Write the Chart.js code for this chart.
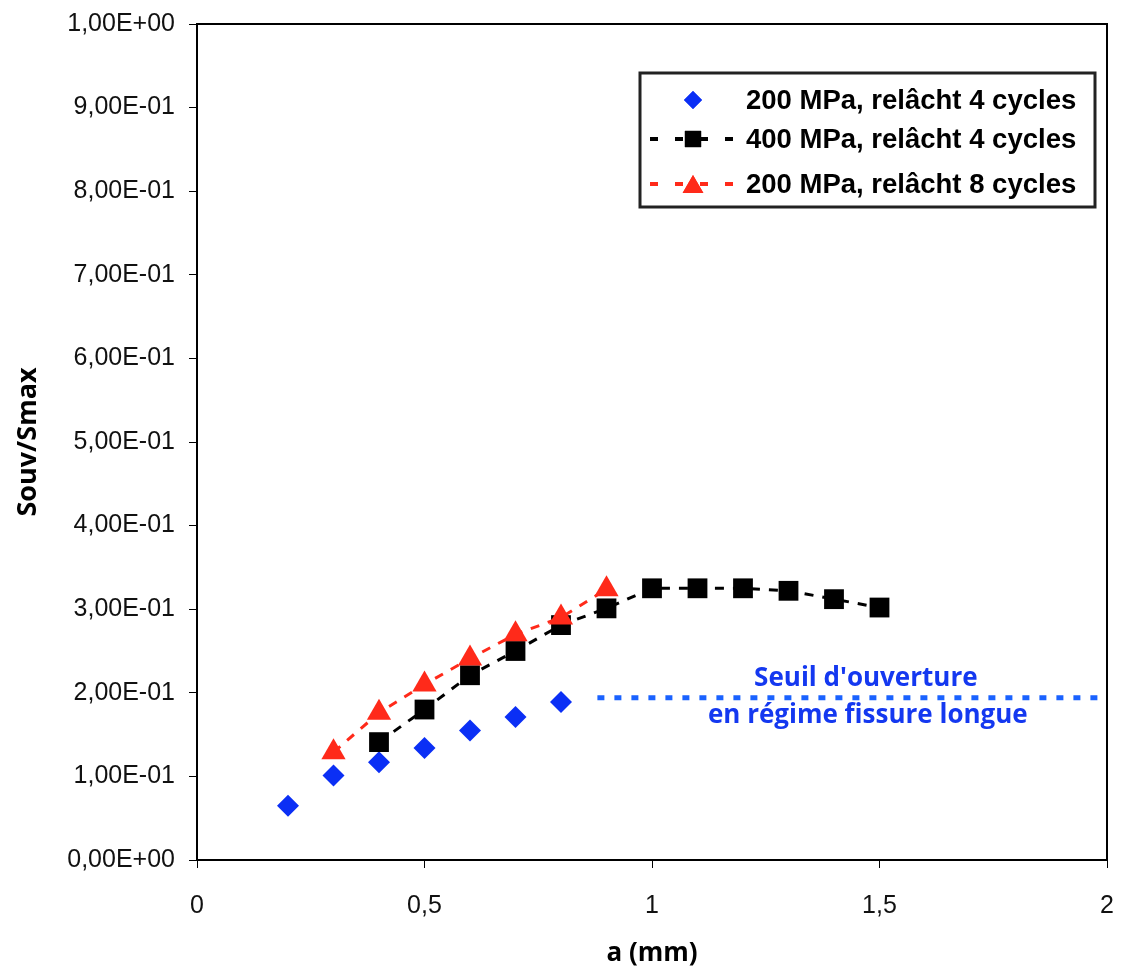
<!DOCTYPE html>
<html>
<head>
<meta charset="utf-8">
<script src="https://cdn.jsdelivr.net/npm/chart.js@4.4.1/dist/chart.umd.min.js"></script>
<style>
    html, body { margin: 0; padding: 0; background: #fff; }
    #wrap { width: 1121px; height: 970px; }
</style>
</head>
<body>
<div id="wrap"><canvas id="chart" width="1121" height="970"></canvas></div>
<script>
(function () {
    'use strict';

    // a (mm) values for each series
    const aBlue = [0.2, 0.3, 0.4, 0.5, 0.6, 0.7, 0.8];
    const aBlack = [0.4, 0.5, 0.6, 0.7, 0.8, 0.9, 1.0, 1.1, 1.2, 1.3, 1.4, 1.5];
    const aRed = [0.3, 0.4, 0.5, 0.6, 0.7, 0.8, 0.9];

    // Souv/Smax values
    const sBlue = [0.065, 0.101, 0.117, 0.134, 0.155, 0.171, 0.189];
    const sBlack = [0.141, 0.180, 0.221, 0.250, 0.281, 0.301, 0.325, 0.325, 0.325, 0.322, 0.312, 0.302];
    const sRed = [0.129, 0.176, 0.210, 0.241, 0.270, 0.290, 0.324];

    // long crack opening threshold
    const seuilRange = [0.88, 1.98];
    const seuilValue = 0.194;

    const seriesNames = [
        '200 MPa, relâcht 4 cycles',
        '400 MPa, relâcht 4 cycles',
        '200 MPa, relâcht 8 cycles'
    ];
    const seuilText = ["Seuil d'ouverture", 'en régime fissure longue'];

    const xTickLabels = ['0', '0,5', '1', '1,5', '2'];
    const yTickLabels = ['0,00E+00', '1,00E-01', '2,00E-01', '3,00E-01', '4,00E-01', '5,00E-01',
        '6,00E-01', '7,00E-01', '8,00E-01', '9,00E-01', '1,00E+00'];

    const BLUE = '#0b2ff5';
    const BLACK = '#000000';
    const RED = '#ff2a1a';
    const SEUIL = '#1a62ff';
    const TEXT_BLUE = '#1438f0';

    function toPoints(xs, ys) {
        return xs.map(function (x, i) { return { x: x, y: ys[i] }; });
    }

    const frame = {
        id: 'frame',
        beforeDatasetsDraw: function (chart) {
            const a = chart.chartArea;
            const ctx = chart.ctx;
            ctx.save();
            ctx.strokeStyle = '#000';
            ctx.lineWidth = 2;
            ctx.strokeRect(a.left, a.top, a.right - a.left, a.bottom - a.top);
            ctx.restore();
        }
    };

    const seuilLabel = {
        id: 'seuilLabel',
        afterDatasetsDraw: function (chart) {
            const xs = chart.scales.x;
            const ys = chart.scales.y;
            const ctx = chart.ctx;
            const cx = xs.getPixelForValue(1.47);
            const yLine = ys.getPixelForValue(seuilValue);
            ctx.save();
            ctx.fillStyle = TEXT_BLUE;
            ctx.font = 'bold 26px "Open Sans"';
            ctx.textAlign = 'center';
            ctx.textBaseline = 'middle';
            ctx.fillText(seuilText[0], cx, yLine - 19);
            ctx.fillText(seuilText[1], cx + 2, yLine + 18);
            ctx.restore();
        }
    };

    const boxLegend = {
        id: 'boxLegend',
        afterDatasetsDraw: function (chart) {
            const a = chart.chartArea;
            const ctx = chart.ctx;
            const right = a.right - 12;
            const left = right - 455;
            const top = a.top + 49;
            const bottom = top + 134;
            const rows = [top + 27, top + 66, top + 111];
            const markX = left + 53;
            const textX = left + 106;

            ctx.save();
            ctx.fillStyle = '#fff';
            ctx.fillRect(left, top, right - left, bottom - top);
            ctx.strokeStyle = '#222';
            ctx.lineWidth = 3;
            ctx.strokeRect(left, top, right - left, bottom - top);

            const styles = [
                { color: BLUE, line: false, point: 'rectRot', r: 9 },
                { color: BLACK, line: true, point: 'rect', r: 11.5 },
                { color: RED, line: true, point: 'triangle', r: 12 }
            ];
            styles.forEach(function (s, i) {
                const y = rows[i];
                if (s.line) {
                    ctx.save();
                    ctx.strokeStyle = s.color;
                    ctx.lineWidth = 4;
                    ctx.setLineDash([8, 17]);
                    ctx.beginPath();
                    ctx.moveTo(left + 10, y);
                    ctx.lineTo(left + 96, y);
                    ctx.stroke();
                    ctx.restore();
                }
                ctx.fillStyle = s.color;
                ctx.strokeStyle = s.color;
                Chart.helpers.drawPoint(ctx, {
                    pointStyle: s.point, radius: s.r, rotation: 0, borderWidth: 0
                }, markX, s.point === 'triangle' ? y + 3 : y);
                ctx.fill();
            });

            ctx.fillStyle = '#000';
            ctx.font = 'bold 27.5px "Liberation Sans", Arial, sans-serif';
            ctx.textAlign = 'left';
            ctx.textBaseline = 'middle';
            seriesNames.forEach(function (name, i) {
                ctx.fillText(name, textX, rows[i] + 1);
            });
            ctx.restore();
        }
    };

    const tickFont = { family: '"Liberation Sans", Arial, sans-serif', size: 25 };

    new Chart(document.getElementById('chart'), {
        type: 'scatter',
        data: {
            datasets: [
                {
                    label: seriesNames[2],
                    data: toPoints(aRed, sRed),
                    showLine: true,
                    borderColor: RED,
                    borderWidth: 3,
                    borderDash: [9, 9],
                    backgroundColor: RED,
                    pointStyle: 'triangle',
                    pointRadius: 14,
                    pointBorderWidth: 0,
                    order: 0
                },
                {
                    label: seriesNames[1],
                    data: toPoints(aBlack, sBlack),
                    showLine: true,
                    borderColor: BLACK,
                    borderWidth: 3,
                    borderDash: [9, 9],
                    backgroundColor: BLACK,
                    pointStyle: 'rect',
                    pointRadius: 14,
                    pointBorderWidth: 0,
                    order: 1
                },
                {
                    label: seriesNames[0],
                    data: toPoints(aBlue, sBlue),
                    showLine: false,
                    backgroundColor: BLUE,
                    borderColor: BLUE,
                    pointStyle: 'rectRot',
                    pointRadius: 11,
                    pointBorderWidth: 0,
                    order: 2
                },
                {
                    label: 'seuil',
                    data: seuilRange.map(function (x) { return { x: x, y: seuilValue }; }),
                    showLine: true,
                    borderColor: SEUIL,
                    borderWidth: 5,
                    borderDash: [7, 10],
                    pointRadius: 0,
                    order: 3
                }
            ]
        },
        options: {
            responsive: false,
            animation: false,
            layout: { padding: { top: 24, right: 14, left: 0, bottom: 0 } },
            plugins: {
                legend: { display: false },
                tooltip: { enabled: false }
            },
            scales: {
                x: {
                    type: 'linear',
                    min: 0,
                    max: 2,
                    afterFit: function (scale) {
                        scale.height = 110;
                        scale.paddingLeft = 0;
                        scale.paddingRight = 0;
                    },
                    ticks: {
                        stepSize: 0.5,
                        color: '#111',
                        font: tickFont,
                        padding: 23,
                        maxRotation: 0,
                        callback: function (v, i) { return xTickLabels[i]; }
                    },
                    grid: { drawOnChartArea: false, color: '#000', tickLength: 8 },
                    border: { display: true, color: '#000', width: 2 },
                    title: {
                        display: true,
                        text: 'a (mm)',
                        color: '#000',
                        font: { family: '"Open Sans", sans-serif', size: 26, weight: 'bold' },
                        padding: { top: 0, bottom: 1 }
                    }
                },
                y: {
                    type: 'linear',
                    min: 0,
                    max: 1,
                    afterFit: function (scale) {
                        scale.width = 197;
                        scale.paddingTop = 0;
                        scale.paddingBottom = 0;
                    },
                    ticks: {
                        stepSize: 0.1,
                        color: '#111',
                        font: tickFont,
                        padding: 14,
                        callback: function (v, i) { return yTickLabels[i]; }
                    },
                    grid: { drawOnChartArea: false, color: '#000', tickLength: 8 },
                    border: { display: true, color: '#000', width: 2 },
                    title: {
                        display: true,
                        text: 'Souv/Smax',
                        color: '#000',
                        font: { family: '"Open Sans", sans-serif', size: 27, weight: 'bold' },
                        padding: { top: 12, bottom: 0 }
                    }
                }
            }
        },
        plugins: [frame, seuilLabel, boxLegend]
    });
})();
</script>
</body>
</html>
